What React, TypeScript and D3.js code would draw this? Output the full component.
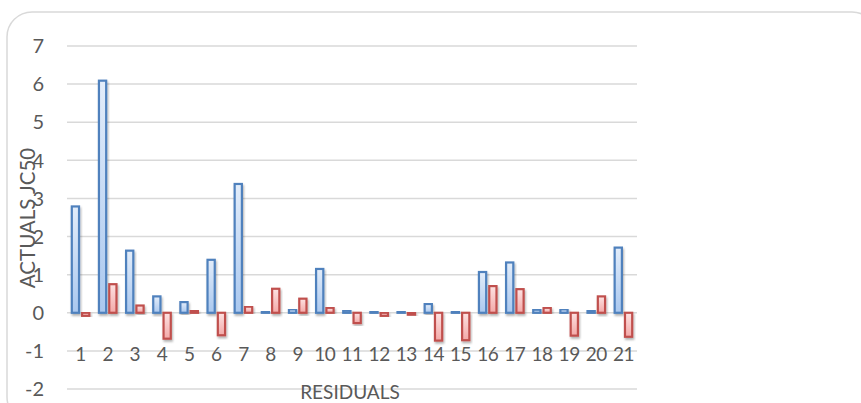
import React from "react";
import * as d3 from "d3";

const categories = ["1","2","3","4","5","6","7","8","9","10","11","12","13","14","15","16","17","18","19","20","21"];
const actuals = [2.79, 6.09, 1.63, 0.43, 0.28, 1.39, 3.38, 0.03, 0.09, 1.15, 0.06, 0.04, 0.03, 0.23, 0.04, 1.07, 1.32, 0.08, 0.09, 0.05, 1.71];
const residuals = [-0.08, 0.75, 0.19, -0.68, 0.05, -0.59, 0.16, 0.63, 0.37, 0.13, -0.27, -0.08, -0.05, -0.73, -0.72, 0.70, 0.62, 0.13, -0.60, 0.43, -0.63];
const yTicks = [-2, -1, 0, 1, 2, 3, 4, 5, 6, 7];
const yTitle = "ACTUALS JC50";
const xTitle = "RESIDUALS";

const W = 861;
const H = 403;
const FONT = "Lato, 'Open Sans', sans-serif";
const TEXT = "#595959";

export default function App() {
  const x = d3.scaleBand<string>().domain(categories).range([67, 637]).padding(0);
  const y = d3.scaleLinear().domain([-2, 7]).range([389, 46]);
  const bw = x.bandwidth();
  const barW = bw * 0.34;
  const gap = bw * 0.04;

  const bars = (vals: number[], series: number) =>
    vals.map((v, i) => {
      const c = (x(categories[i]) as number) + bw / 2;
      const x0 = series === 0 ? c - gap / 2 - barW : c + gap / 2;
      const yTop = y(Math.max(0, v));
      const yBot = y(Math.min(0, v));
      return (
        <rect
          key={`${series}-${i}`}
          x={x0 + 1}
          y={yTop}
          width={barW - 2}
          height={Math.max(0.5, yBot - yTop)}
          fill={series === 0 ? "url(#gBlue)" : "url(#gRed)"}
          stroke={series === 0 ? "#4f81bd" : "#c0504d"}
          strokeWidth={2.2}
          filter="url(#shadow)"
        />
      );
    });

  return (
    <svg
      width={W}
      height={H}
      style={{ position: "absolute", left: 0, top: 0, display: "block", background: "#fff" }}
    >
      <defs>
        <linearGradient id="gBlue" x1="0" y1="0" x2="0" y2="1">
          <stop offset="0" stopColor="#e3edfa" />
          <stop offset="1" stopColor="#aac8ef" />
        </linearGradient>
        <linearGradient id="gRed" x1="0" y1="0" x2="0" y2="1">
          <stop offset="0" stopColor="#fde2e2" />
          <stop offset="1" stopColor="#f3a9a8" />
        </linearGradient>
        <filter id="shadow" x="-50%" y="-10%" width="200%" height="130%">
          <feDropShadow dx="1" dy="2" stdDeviation="1.3" floodColor="#000" floodOpacity="0.3" />
        </filter>
      </defs>
      <rect x={7} y={12} width={870} height={410} rx={25} ry={25} fill="#fff" stroke="#d9d9d9" strokeWidth={1.5} />
      {yTicks.map((t) => (
        <g key={t}>
          <line x1={67} x2={637} y1={y(t)} y2={y(t)} stroke="#d9d9d9" strokeWidth={1.5} />
          <text x={44} y={y(t)} dy="0.36em" textAnchor="end" fontFamily={FONT} fontSize={20} fill={TEXT}>
            {t}
          </text>
        </g>
      ))}
      {bars(actuals, 0)}
      {bars(residuals, 1)}
      {categories.map((c) => (
        <text
          key={c}
          x={(x(c) as number) + bw / 2}
          y={361}
          textAnchor="middle"
          fontFamily={FONT}
          fontSize={19}
          letterSpacing={-0.5}
          fill={TEXT}
        >
          {c}
        </text>
      ))}
      <text
        transform={`translate(35,218) rotate(-90)`}
        textAnchor="middle"
        fontFamily={FONT}
        fontSize={20.5}
        fill={TEXT}
      >
        {yTitle}
      </text>
      <text x={350} y={399} textAnchor="middle" fontFamily={FONT} fontSize={19} fill={TEXT}>
        {xTitle}
      </text>
    </svg>
  );
}
